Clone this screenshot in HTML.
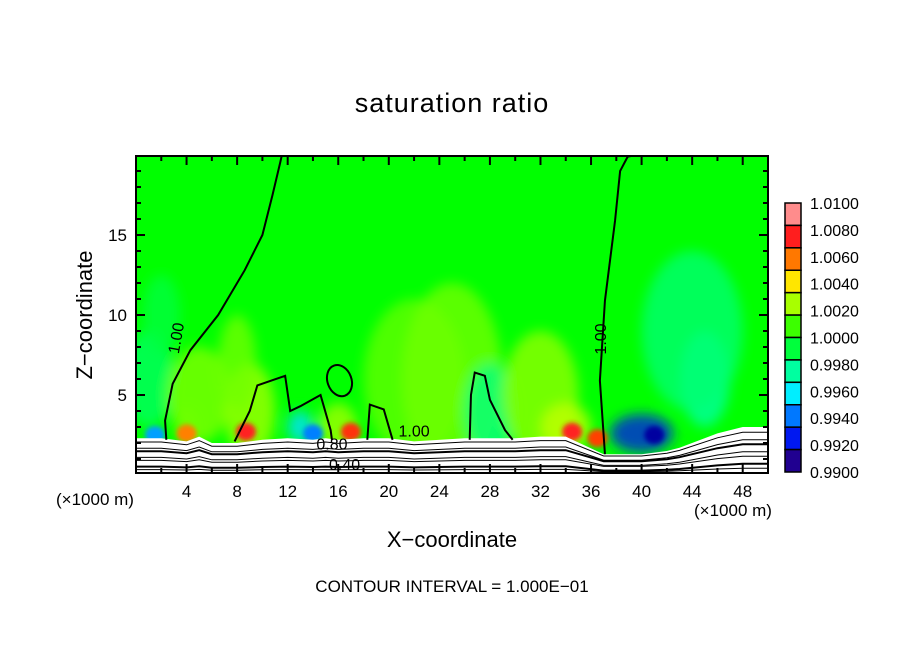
<!DOCTYPE html>
<html><head><meta charset="utf-8">
<style>
body{margin:0;background:#fff;}
svg text{font-family:"Liberation Sans",sans-serif;fill:#000;}
</style></head>
<body>
<svg id="c" width="904" height="654" viewBox="0 0 904 654" xmlns="http://www.w3.org/2000/svg">
<defs>
<clipPath id="pc"><rect x="136" y="156" width="632" height="317"/></clipPath>
<filter id="bl" x="-50%" y="-50%" width="200%" height="200%"><feGaussianBlur stdDeviation="6"/></filter>
<filter id="bl2" x="-50%" y="-50%" width="200%" height="200%"><feGaussianBlur stdDeviation="2.5"/></filter>
</defs>
<text x="452" y="112" font-size="27" text-anchor="middle" letter-spacing="1">saturation ratio</text>
<g id="plot" clip-path="url(#pc)">
<rect x="136" y="156" width="632" height="317" fill="#00ff00"/>
<g id="blobs" filter="url(#bl)"></g>
<g id="hot" filter="url(#bl2)"></g>
<g id="ground"></g>
<g id="contours" fill="none" stroke="#000" stroke-width="2"></g>
</g>
<rect x="136" y="156" width="632" height="317" fill="none" stroke="#000" stroke-width="2"/>
<g id="axes"></g>
<text x="95" y="505" font-size="17" text-anchor="middle">(×1000 m)</text>
<text x="733" y="516" font-size="17" text-anchor="middle">(×1000 m)</text>
<text x="452" y="547" font-size="22" text-anchor="middle">X−coordinate</text>
<text x="92" y="315" font-size="22" text-anchor="middle" transform="rotate(-90 92 315)">Z−coordinate</text>
<text x="452" y="592" font-size="17" text-anchor="middle">CONTOUR INTERVAL = 1.000E−01</text>
<g id="cbar"></g>
</svg>
<script>
const xTicks=[4,8,12,16,20,24,28,32,36,40,44,48];
const yTicks=[5,10,15];
const cbLevels=["1.0100","1.0080","1.0060","1.0040","1.0020","1.0000","0.9980","0.9960","0.9940","0.9920","0.9900"];
const cbColors=["#ff8c8c","#ff1e1e","#ff7800","#ffe600","#a8ff00","#3cff00","#00ff3c","#00ffa0","#00eeff","#0078ff","#0018f0","#200090"];
const blobX=[1,4,5,9,13,16,22,25,28,32,34,40,45,2,8,44];
const blobZ=[6,3,5,4,3,3,6,6,4,5,3,2.6,6,10,7,9];
const blobRx=[2,1,2.5,2,1,1.5,4,4,2,3,2,2.5,2,1.5,1.5,4];
const blobRz=[3,1.2,3,3,1,1.5,5,6,3,4,1.5,1.2,3,2.5,3,5];
const blobC=["#00ff60","#30ff00","#80ff00","#a0ff00","#00e0ff","#a0ff00","#60ff00","#70ff00","#00ff80","#90ff00","#c0ff00","#0020e0","#00ffa0","#00ff40","#70ff00","#00ff70"];
const hotX=[8.7,17,34.5,36.5,4,1.5,14,41];
const hotZ=[2.7,2.7,2.7,2.3,2.6,2.5,2.6,2.5];
const hotC=["#ff2020","#ff3010","#ff2020","#ff4000","#ff8000","#00a0ff","#0080ff","#0000a0"];
const groundZ=[2.3,2.3,2.1,2.4,2.0,2.0,2.2,2.3,2.2,2.3,2.2,2.3,2.3,2.1,2.3,2.3,2.4,2.4,1.3,1.3,1.5,1.7,2.6,3.0,3.0];
const groundKm=[0,2,4,5,6,8,10,12,14,15,16,18,20,22,26,30,32,34,37,40,42,43,46,48,50];
const cLine1=[[2.4,2.2],[2.3,3.4],[2.9,5.7],[4.3,7.8],[6.5,10],[8.6,12.8],[10,15],[10.8,17.5],[11.4,19.5],[11.6,20.2]];
const cLine2=[[7.8,2.1],[9,4],[9.6,5.6],[11.8,6.2],[12.2,4],[13,4.3],[14.6,5],[15.4,2.8],[15.5,2.2]];
const cLine3=[[18.3,2.2],[18.5,4.4],[19.6,4.1],[20.3,2.2]];
const cLine4=[[26.4,2.2],[26.5,5],[26.8,6.4],[27.6,6.2],[28,4.7],[29.2,2.8],[29.8,2.2]];
const cLine5=[[37.1,1.3],[36.7,5.9],[37.1,10.9],[37.9,15.9],[38.3,19],[38.9,19.9],[40.3,20.1]];
const loopX=[16.1],loopZ=[5.9];
const SVGNS="http://www.w3.org/2000/svg";
const X=k=>136+k*632/50, Y=z=>475-z*16;
function el(t,a,p){const e=document.createElementNS(SVGNS,t);for(const k in a)e.setAttribute(k,a[k]);document.getElementById(p).appendChild(e);return e;}
blobX.forEach((v,i)=>{const e=el('ellipse',{cx:X(v),cy:Y(blobZ[i]),rx:blobRx[i]*12.64,ry:blobRz[i]*16,fill:blobC[i],opacity:0.8},'blobs');

});
hotX.forEach((v,i)=>{const e=el('ellipse',{cx:X(v),cy:Y(hotZ[i]),rx:10,ry:9,fill:hotC[i]},'hot');

});
let gp='M'+X(0)+','+Y(groundZ[0]);groundKm.forEach((k,i)=>gp+=' L'+X(k)+','+Y(groundZ[i]));gp+=' L768,480 L136,480Z';
const g=el('path',{d:gp,fill:'#fff'},'ground');


for(let j=1;j<=7;j++){let d='';groundKm.forEach((k,i)=>{const z=groundZ[i]*(1-j/8)+(j%2?0.05:-0.05);d+=(i?' L':'M')+X(k)+','+Y(z);});
const l=el('path',{d:d,fill:'none',stroke:'#000','stroke-width':j%3?1:2},'ground');

}
[[cLine1,'contour-1-00-left'],[cLine2,'contour-1-00-wave'],[cLine3,'contour-1-00-small'],[cLine4,'contour-1-00-mid'],[cLine5,'contour-1-00-right']].forEach(([pts,n])=>{const p=el('path',{d:pts.map((q,i)=>(i?'L':'M')+X(q[0])+','+Y(q[1])).join(' ')},'contours');

});
loopX.forEach((v,i)=>{const e=el('ellipse',{cx:X(v),cy:Y(loopZ[i]),rx:12,ry:16,transform:'rotate(-20 '+X(v)+' '+Y(loopZ[i])+')'},'contours');

});
[[3.6,8.5,'1.00',-80],[37.2,8.5,'1.00',-90],[22,2.4,'1.00',0],[15.5,1.6,'0.80',0],[16.5,0.3,'0.40',0]].forEach(a=>{const t=el('text',{x:X(a[0]),y:Y(a[1]),'font-size':16,'text-anchor':'middle',transform:'rotate('+a[3]+' '+X(a[0])+' '+Y(a[1])+')'},'plot');t.textContent=a[2];

});
for(let k=2;k<50;k+=2){const L=k%4?5:9;
el('line',{x1:X(k),x2:X(k),y1:473,y2:473-L,stroke:'#000','stroke-width':2},'axes');
el('line',{x1:X(k),x2:X(k),y1:156,y2:156+L,stroke:'#000','stroke-width':2},'axes');}
for(let z=1;z<20;z++){const L=z%5?5:9;
el('line',{x1:136,x2:136+L,y1:Y(z),y2:Y(z),stroke:'#000','stroke-width':2},'axes');
el('line',{x1:768,x2:768-L,y1:Y(z),y2:Y(z),stroke:'#000','stroke-width':2},'axes');}
xTicks.forEach(k=>{const t=el('text',{x:X(k),y:497,'font-size':17,'text-anchor':'middle'},'axes');t.textContent=k;

});
yTicks.forEach(z=>{const t=el('text',{x:127,y:Y(z)+6,'font-size':17,'text-anchor':'end'},'axes');t.textContent=z;

});
const cbTop=203,cbBot=472,n=cbColors.length,bh=(cbBot-cbTop)/n;
cbColors.forEach((c,i)=>{const r=el('rect',{x:785,y:cbTop+i*bh,width:16,height:bh,fill:c,stroke:'#000','stroke-width':1.5},'cbar');

});
cbLevels.forEach((s,i)=>{const t=el('text',{x:810,y:cbTop+i*(cbBot-cbTop)/(cbLevels.length-1)+6,'font-size':16},'cbar');t.textContent=s;

});
</script>
</body></html>
